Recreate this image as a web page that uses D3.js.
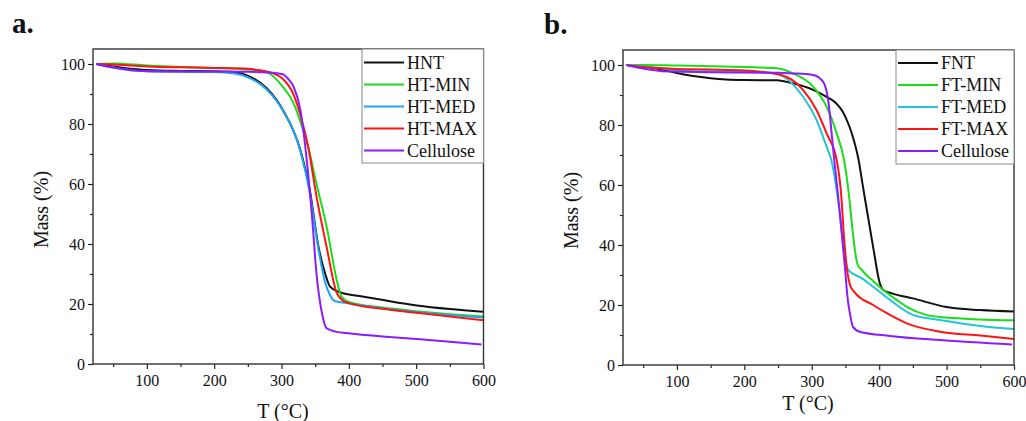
<!DOCTYPE html>
<html>
<head>
<meta charset="utf-8">
<script src="https://cdn.jsdelivr.net/npm/d3@7"></script>
<style>
html,body{margin:0;padding:0;background:#fff;}
svg{display:block;}
text{font-family:"Liberation Serif","Times New Roman",serif;fill:#111;}
</style>
</head>
<body>
<svg id="chart" width="1026" height="421"></svg>
<script>
// ---------- data (T in °C, mass in %) ----------
const xTicks = [100, 200, 300, 400, 500, 600];
const xMinorTicks = [50, 150, 250, 350, 450, 550];
const yTicks = [0, 20, 40, 60, 80, 100];
const yMinorTicks = [10, 30, 50, 70, 90];

const labelsA = ["HNT", "HT-MIN", "HT-MED", "HT-MAX", "Cellulose"];
const labelsB = ["FNT", "FT-MIN", "FT-MED", "FT-MAX", "Cellulose"];
const colorsA = ["#111111", "#19dd19", "#1ea5f5", "#ff1414", "#8a1cff"];
const colorsB = ["#111111", "#19dd19", "#22c4d6", "#ff1414", "#8a1cff"];

const HNT = [[25,100],[50,99.2],[75,98.4],[100,98],[150,97.7],[200,97.6],[230,97.3],[253,95.8],[278,91.9],[302,84.7],[328,71.3],[342,58],[355,39],[365,30],[372,25.8],[387,23.9],[420,22.5],[451,21.3],[501,19.5],[550,18.3],[600,17.4]];
const HT_MIN = [[25,100],[50,100.2],[100,99.5],[150,99],[200,98.7],[250,98.2],[278,97.2],[302,92.4],[318,86.9],[328,80.8],[340,72],[352,60],[367,45.8],[382,28],[389,22.5],[400,20.7],[450,18.8],[500,17.6],[550,16.6],[600,15.8]];
const HT_MED = [[25,100],[50,98.8],[75,97.9],[100,97.6],[150,97.4],[200,97.3],[230,96.8],[253,95.3],[278,91.5],[302,84.5],[328,71],[342,57],[355,38],[365,27],[372,23],[379,21],[400,20.2],[450,18.6],[500,17.3],[550,16.3],[600,15.5]];
const HT_MAX = [[25,100],[50,99.8],[100,99.2],[150,98.9],[200,98.7],[250,98.4],[268,97.9],[278,97.5],[302,95],[318,89.7],[328,83],[340,72],[352,55.8],[367,39],[382,23.7],[392,21],[400,20.3],[450,18.4],[500,17.1],[550,15.8],[600,14.6]];
const CellA = [[25,100],[50,98.8],[75,98],[100,97.6],[150,97.5],[200,97.5],[250,97.4],[280,97.2],[302,96.6],[310,95],[318,92.4],[328,84.7],[338,66.9],[345,50],[352,30],[360,17],[367,11.9],[380,10.8],[402,10.2],[450,9.2],[501,8.3],[550,7.4],[597,6.5]];

const FNT = [[25,100],[50,99.5],[74,98.7],[100,97.3],[124,96.3],[150,95.6],[173,95.2],[200,95],[248,94.9],[272,93.9],[302,91.7],[322,89.4],[335,87.5],[346,84.4],[355,80],[361,76],[369,68.9],[376,59.4],[391,39.4],[401,27.2],[406,25],[420,23.8],[450,22.2],[500,19.3],[550,18.3],[600,17.8]];
const FT_MIN = [[25,100],[50,100],[100,99.8],[150,99.6],[200,99.3],[248,98.9],[272,97.2],[302,92.8],[322,86.1],[337,77.2],[348,68.3],[356,55],[360,46],[364,38.3],[368,33.5],[375,31.5],[381,30],[391,28],[406,25],[426,21.7],[441,19.4],[470,16.7],[500,15.8],[550,15.2],[600,14.9]];
const FT_MED = [[25,100],[50,99.5],[74,99],[100,98.2],[150,97.9],[200,97.8],[240,97.4],[262,95.6],[287,89.4],[307,81.7],[322,72.8],[329,68.3],[341,51.7],[349,36],[354,31.7],[375,28.8],[391,26.1],[416,21.7],[450,16.7],[490,15],[550,13],[600,12]];
const FT_MAX = [[25,100],[50,99.3],[100,98.7],[150,98.5],[200,98.2],[223,97.8],[262,96.1],[287,91.7],[307,85],[322,77.2],[337,68.3],[343.5,57.2],[348.5,40.6],[353.5,30],[357,26.5],[363,24.4],[391,20],[416,16.7],[441,13.9],[490,11.1],[550,9.8],[600,8.7]];
const CellB = [[25,100],[50,98.8],[75,98],[100,97.8],[150,97.6],[200,97.5],[250,97.4],[272,97.2],[302,96.7],[317,94.4],[325,87.2],[330,76],[334,67],[341,52],[348.5,34.4],[353.5,21.7],[356,18],[361,12.8],[371,11.1],[416,9.7],[490,8.3],[597,6.8]];

const seriesA = [HNT, HT_MIN, HT_MED, HT_MAX, CellA];
const seriesB = [FNT, FT_MIN, FT_MED, FT_MAX, CellB];

// ---------- drawing ----------
const svg = d3.select("#chart");

function panel(opt) {
  const x = d3.scaleLinear().domain([20, 600]).range([opt.left, opt.right]);
  const y = d3.scaleLinear().domain([0, 105]).range([opt.bottom, opt.top]);
  const g = svg.append("g");

  // curves
  const line = d3.line().x(d => x(d[0])).y(d => y(d[1])).curve(d3.curveMonotoneX);
  g.append("g").selectAll("path").data(opt.series).join("path")
    .attr("d", line)
    .attr("fill", "none")
    .attr("stroke", (d, i) => opt.colors[i])
    .attr("stroke-width", 2)
    .attr("stroke-linejoin", "round");

  // x axis
  const xa = g.append("g").attr("transform", `translate(0,${opt.bottom})`)
    .call(d3.axisBottom(x).tickValues(xTicks).tickSize(5).tickPadding(6).tickFormat(d3.format("d")));
  const xm = g.append("g").attr("transform", `translate(0,${opt.bottom})`)
    .call(d3.axisBottom(x).tickValues(xMinorTicks).tickSize(3).tickFormat(""));
  // y axis
  const ya = g.append("g").attr("transform", `translate(${opt.left},0)`)
    .call(d3.axisLeft(y).tickValues(yTicks).tickSize(5).tickPadding(3).tickFormat(d3.format("d")));
  const ym = g.append("g").attr("transform", `translate(${opt.left},0)`)
    .call(d3.axisLeft(y).tickValues(yMinorTicks).tickSize(3).tickFormat(""));
  [xa, xm, ya, ym].forEach(a => {
    a.select(".domain").remove();
    a.selectAll(".tick line").attr("stroke", "#222").attr("stroke-width", 1.2);
    a.selectAll("text").attr("font-size", 16).attr("font-family", "Liberation Serif, serif").attr("fill", "#111");
  });

  // frame
  g.append("rect")
    .attr("x", opt.left).attr("y", opt.top)
    .attr("width", opt.right - opt.left).attr("height", opt.bottom - opt.top)
    .attr("fill", "none").attr("stroke", "#333").attr("stroke-width", 1.4);

  // legend
  const lg = g.append("g");
  lg.append("rect")
    .attr("x", opt.legX).attr("y", opt.top)
    .attr("width", opt.right - opt.legX).attr("height", opt.legBottom - opt.top)
    .attr("fill", "#fff").attr("stroke", "#8a8a8a").attr("stroke-width", 1);
  opt.labels.forEach((lab, i) => {
    const yy = opt.legY0 + i * opt.legStep;
    lg.append("line")
      .attr("x1", opt.legX + 2).attr("x2", opt.legX + 42)
      .attr("y1", yy).attr("y2", yy)
      .attr("stroke", opt.colors[i]).attr("stroke-width", 2);
    lg.append("text")
      .attr("x", opt.legX + 45).attr("y", yy + 6)
      .attr("font-size", 18)
      .text(lab);
  });

  // titles
  g.append("text")
    .attr("transform", `translate(${opt.left - 45},${(opt.top + opt.bottom) / 2 + 3}) rotate(-90)`)
    .attr("text-anchor", "middle").attr("font-size", 20)
    .text("Mass (%)");
  g.append("text")
    .attr("x", opt.xTitleX).attr("y", opt.xTitleY)
    .attr("text-anchor", "middle").attr("font-size", 20)
    .text("T (°C)");
  g.append("text")
    .attr("x", opt.tagX).attr("y", opt.tagY)
    .attr("font-size", 29).attr("font-weight", "bold")
    .text(opt.tag);
}

panel({
  left: 93, right: 483.5, top: 49, bottom: 364,
  series: seriesA, colors: colorsA, labels: labelsA,
  legX: 362, legBottom: 163, legY0: 62.5, legStep: 22,
  xTitleX: 283, xTitleY: 418, tag: "a.", tagX: 12, tagY: 33
});
panel({
  left: 623, right: 1014, top: 50, bottom: 365,
  series: seriesB, colors: colorsB, labels: labelsB,
  legX: 896, legBottom: 164, legY0: 63, legStep: 22,
  xTitleX: 808, xTitleY: 410, tag: "b.", tagX: 544, tagY: 34
});
</script>
</body>
</html>
